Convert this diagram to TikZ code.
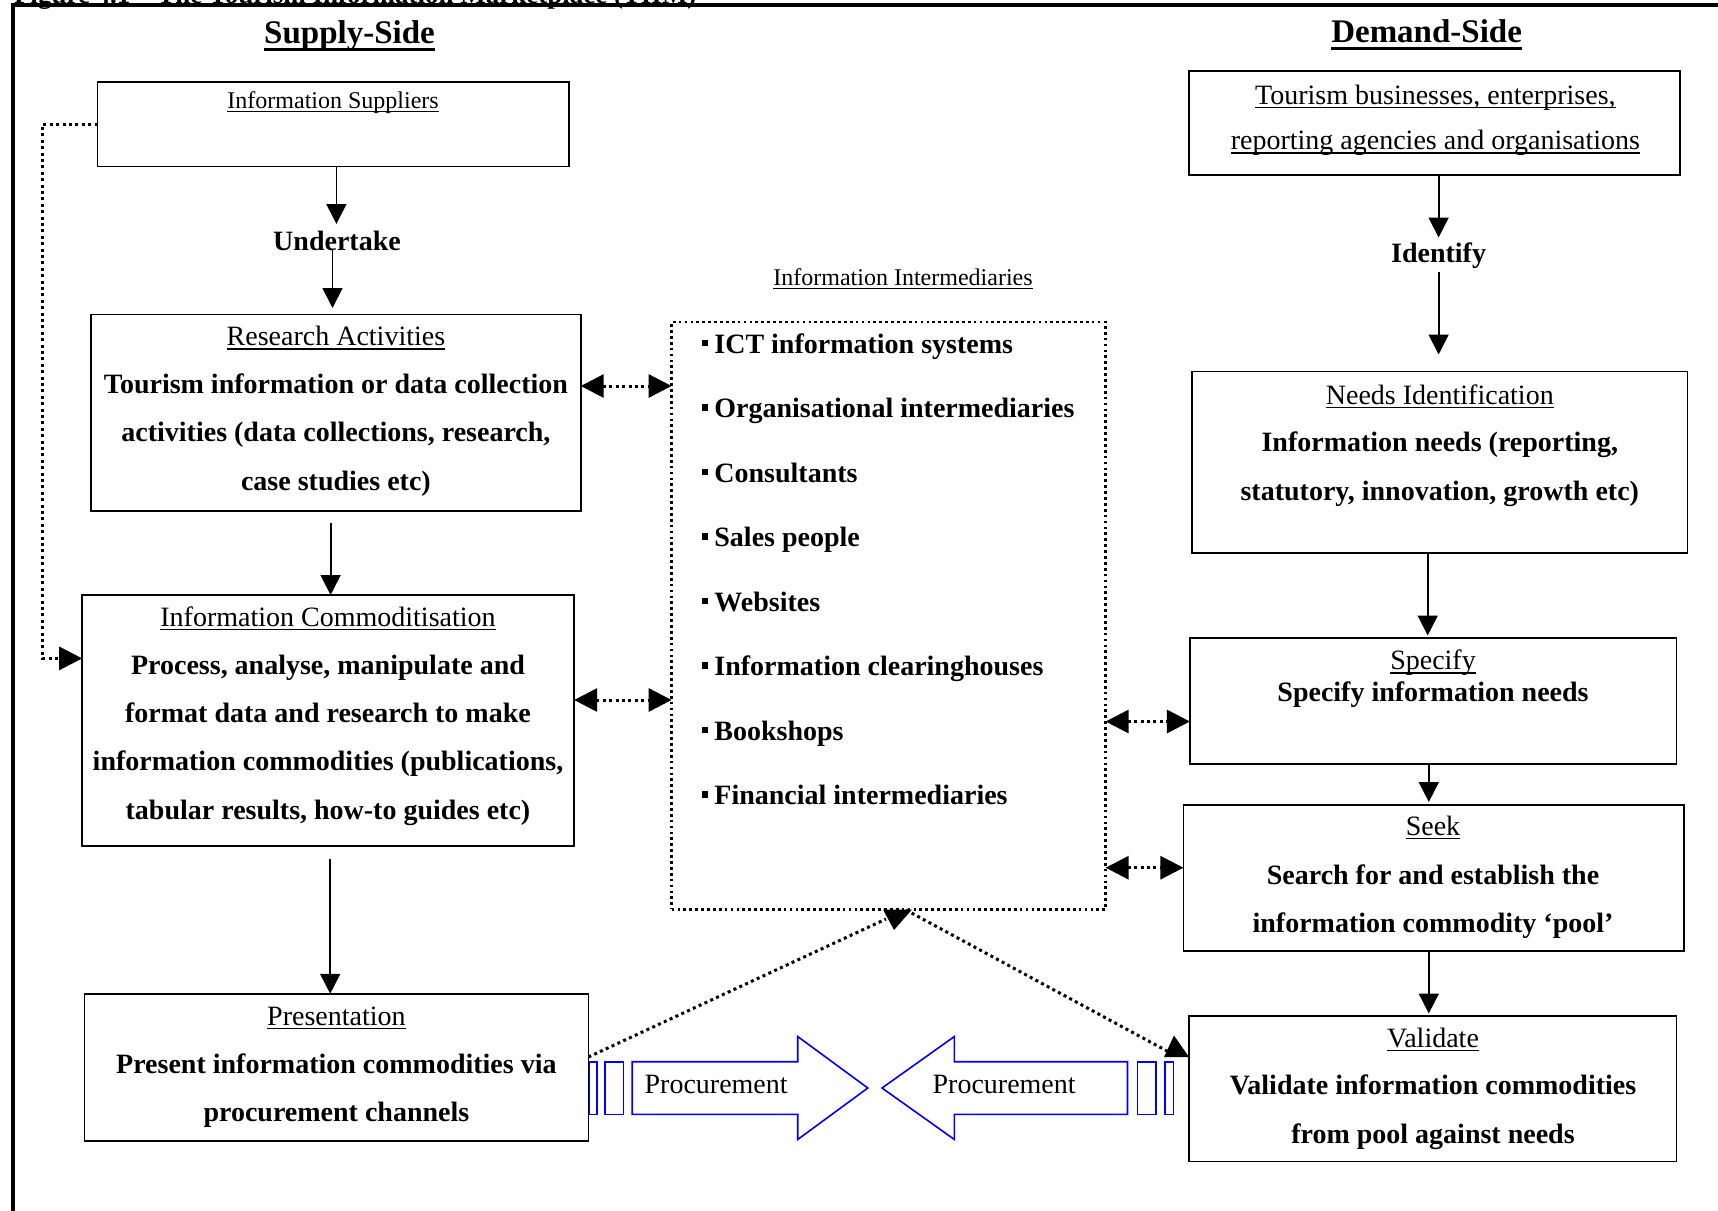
\documentclass[tikz,border=0pt]{standalone}
\usepackage{fontspec}
\setmainfont{Liberation Serif}
\usetikzlibrary{arrows.meta}

% underlined text with a rule set a little below the baseline
\newcommand{\ulx}[1]{\setbox0=\hbox{#1}\rlap{\rule[-0.15em]{\wd0}{0.05em}}\box0}
\newcommand{\ulbold}[1]{\setbox0=\hbox{#1}\rlap{\rule[-0.23em]{\wd0}{0.08em}}\box0}
% small square bullet hanging left of the item text
\newcommand{\sqbullet}{\llap{\rule[7pt]{6.5pt}{6.5pt}\hspace{6pt}}}

\tikzset{
  every node/.style={inner sep=0pt, outer sep=0pt},
  box/.style={draw, line width=1.8pt},
  body/.style={font=\fontsize{28}{33}\selectfont\bfseries, anchor=base},
  head/.style={font=\fontsize{28}{33}\selectfont, anchor=base},
  small/.style={font=\fontsize{24}{28}\selectfont, anchor=base},
  side/.style={font=\fontsize{33}{38}\selectfont\bfseries, anchor=base},
  item/.style={font=\fontsize{28}{33}\selectfont\bfseries, anchor=base west},
  conn/.style={line width=1.8pt, -{Triangle[length=20pt,width=20pt]}},
  dots/.style={line width=3pt, dash pattern=on 3pt off 3.4pt},
  dbl/.style={dots, {Triangle[length=23pt,width=23pt]}-{Triangle[length=23pt,width=23pt]}},
  dotarr/.style={dots, -{Triangle[length=23pt,width=23pt]}},
  proc/.style={draw=blue, line width=1.6pt, line join=miter},
  proctext/.style={font=\fontsize{28}{33}\selectfont, anchor=base west},
}

\begin{document}
\begin{tikzpicture}[x=1pt,y=-1pt]
\useasboundingbox (0,0) rectangle (1718,1210);
\clip (0,0) rectangle (1718,1210);

% outer frame and caption above it
\node[font=\fontsize{27}{30}\selectfont\bfseries, anchor=base west] (caption) at (14,3)
  {Figure 4.1 -- The Tourism Information Marketplace (TIIM)};
\draw[line width=3.5pt, line join=miter] (13,1230) -- (13,5) -- (1740,5);

% headings
\node[side] (supplyside) at (349.5,43) {\ulbold{Supply-Side}};
\node[side] (demandside) at (1426.6,42.5) {\ulbold{Demand-Side}};

% ---------- supply side ----------
\node[box, minimum width=471.2pt, minimum height=84.3pt] (sup) at (333.1,124.35) {};
\node[small] (supT) at (333.1,108.5) {\ulx{Information Suppliers}};

\node[body] (und) at (337,250) {Undertake};

\node[box, minimum width=489.7pt, minimum height=196.1pt] (res) at (335.85,412.55) {};
\node[head] (resT) at (335.9,345.4) {\ulx{Research Activities}};
\node[body] (res1) at (335.9,393.6) {Tourism information or data collection};
\node[body] (res2) at (335.9,441.8) {activities (data collections, research,};
\node[body] (res3) at (335.9,490) {case studies etc)};

\node[box, minimum width=491.9pt, minimum height=250.9pt] (com) at (328.15,720.45) {};
\node[head] (comT) at (328,626) {\ulx{Information Commoditisation}};
\node[body] (com1) at (328,674) {Process, analyse, manipulate and};
\node[body] (com2) at (328,722) {format data and research to make};
\node[body] (com3) at (328,770.5) {information commodities (publications,};
\node[body] (com4) at (328,819.5) {tabular results, how-to guides etc)};

\node[box, minimum width=504pt, minimum height=146.8pt] (pre) at (336.4,1067.2) {};
\node[head] (preT) at (336.4,1025) {\ulx{Presentation}};
\node[body] (pre1) at (336.4,1073) {Present information commodities via};
\node[body] (pre2) at (336.4,1121.5) {procurement channels};

% ---------- intermediaries ----------
\node[small] (imdT) at (903,285.5) {\ulx{Information Intermediaries}};
\node[draw, line width=2.7pt, dash pattern=on 2.7pt off 3.2pt,
      minimum width=434pt, minimum height=587.3pt] (imd) at (888.6,615.75) {};
\node[item] (i1) at (714.4,353)   {\sqbullet ICT information systems};
\node[item] (i2) at (714.4,417.5) {\sqbullet Organisational intermediaries};
\node[item] (i3) at (714.4,482)   {\sqbullet Consultants};
\node[item] (i4) at (714.4,546.5) {\sqbullet Sales people};
\node[item] (i5) at (714.4,611)   {\sqbullet Websites};
\node[item] (i6) at (714.4,675.5) {\sqbullet Information clearinghouses};
\node[item] (i7) at (714.4,740)   {\sqbullet Bookshops};
\node[item] (i8) at (714.4,804.5) {\sqbullet Financial intermediaries};

% ---------- demand side ----------
\node[box, minimum width=490.9pt, minimum height=104.1pt] (tou) at (1434.25,123.25) {};
\node[head] (tou1) at (1435.4,104) {\ulx{Tourism businesses, enterprises,}};
\node[head] (tou2) at (1435.4,149.5) {\ulx{reporting agencies and organisations}};

\node[body] (idf) at (1438.6,262) {Identify};

\node[box, minimum width=495.3pt, minimum height=181.9pt] (nee) at (1439.75,462.35) {};
\node[head] (neeT) at (1439.8,404) {\ulx{Needs Identification}};
\node[body] (nee1) at (1439.8,451) {Information needs (reporting,};
\node[body] (nee2) at (1439.8,500) {statutory, innovation, growth etc)};

\node[box, minimum width=486.5pt, minimum height=126pt] (spe) at (1433.15,700.7) {};
\node[head] (speT) at (1433,669.5) {\ulx{Specify}};
\node[body] (spe1) at (1433,701.5) {Specify information needs};

\node[box, minimum width=500.7pt, minimum height=145.8pt] (see) at (1433.75,878.2) {};
\node[head] (seeT) at (1433,835) {\ulx{Seek}};
\node[body] (see1) at (1433,884) {Search for and establish the};
\node[body] (see2) at (1433,932.5) {information commodity `pool'};

\node[box, minimum width=487.6pt, minimum height=145.7pt] (val) at (1432.6,1088.55) {};
\node[head] (valT) at (1433,1047) {\ulx{Validate}};
\node[body] (val1) at (1433,1094.5) {Validate information commodities};
\node[body] (val2) at (1433,1143) {from pool against needs};

% ---------- solid flow arrows ----------
\coordinate (undA) at (336.4,224);
\coordinate (undB) at (332.5,250);
\coordinate (undC) at (332.5,308);
\draw[conn] (sup.south -| undA) -- (undA);
\draw[conn] (undB) -- (undC);
\coordinate (rc) at (330.6,522.6);
\draw[conn] (rc) -- (rc |- com.north);
\coordinate (cp) at (330.2,858.5);
\draw[conn] (cp) -- (cp |- pre.north);

\coordinate (idA) at (1438.6,237.5);
\coordinate (idB) at (1438.6,271.7);
\coordinate (idC) at (1438.6,354.5);
\draw[conn] (tou.south -| idA) -- (idA);
\draw[conn] (idB) -- (idC);
\coordinate (ns) at (1427.7,635.5);
\draw[conn] (nee.south -| ns) -- (ns);
\coordinate (ss) at (1428.8,802);
\draw[conn] (spe.south -| ss) -- (ss);
\coordinate (sv) at (1428.8,1013.5);
\draw[conn] (see.south -| sv) -- (sv);

% ---------- dotted links ----------
\coordinate (lcA) at (42.4,124.5);
\coordinate (lcB) at (0,658.4);
\draw[dotarr] (sup.west |- lcA) -- (lcA) |- (com.west |- lcB);

\coordinate (ri) at (0,386);
\draw[dbl] (res.east |- ri) -- (imd.west |- ri);
\coordinate (ci) at (0,700);
\draw[dbl] (com.east |- ci) -- (imd.west |- ci);
\coordinate (is) at (0,721.5);
\draw[dbl] (imd.east |- is) -- (spe.west |- is);
\coordinate (ik) at (0,867.7);
\draw[dbl] (imd.east |- ik) -- (see.west |- ik);

% links from presentation to the intermediaries and on to validation
\coordinate (pA) at (0,1057);
\coordinate (mA) at (886,919);
\coordinate (mB) at (906,910);
\coordinate (vA) at (1167,1051);
\draw[dots] (pre.east |- pA) -- (mA);
\draw[dots] (mB) -- (vA);
\fill (883,909.5) -- (912,909.5) -- (894,930) -- cycle;
\fill (1174,1035.5) -- (1189,1057) -- (1164,1057) -- cycle;

% ---------- procurement channels ----------
\draw[proc] (589.5,1061.7) rectangle (597.2,1114.3);
\draw[proc] (604.8,1061.7) rectangle (623.5,1114.3);
\draw[proc] (632.2,1061.7) -- (797.7,1061.7) -- (797.7,1036.5) -- (867.8,1088)
  -- (797.7,1139.5) -- (797.7,1114.3) -- (632.2,1114.3) -- cycle;
\node[proctext] (procR) at (644.6,1093) {Procurement};

\draw[proc] (1164.7,1061.7) rectangle (1173.5,1114.3);
\draw[proc] (1137.3,1061.7) rectangle (1156,1114.3);
\draw[proc] (1127.5,1061.7) -- (954.4,1061.7) -- (954.4,1036.5) -- (882,1088)
  -- (954.4,1139.5) -- (954.4,1114.3) -- (1127.5,1114.3) -- cycle;
\node[proctext] (procL) at (932.6,1093) {Procurement};

\end{tikzpicture}
\end{document}
